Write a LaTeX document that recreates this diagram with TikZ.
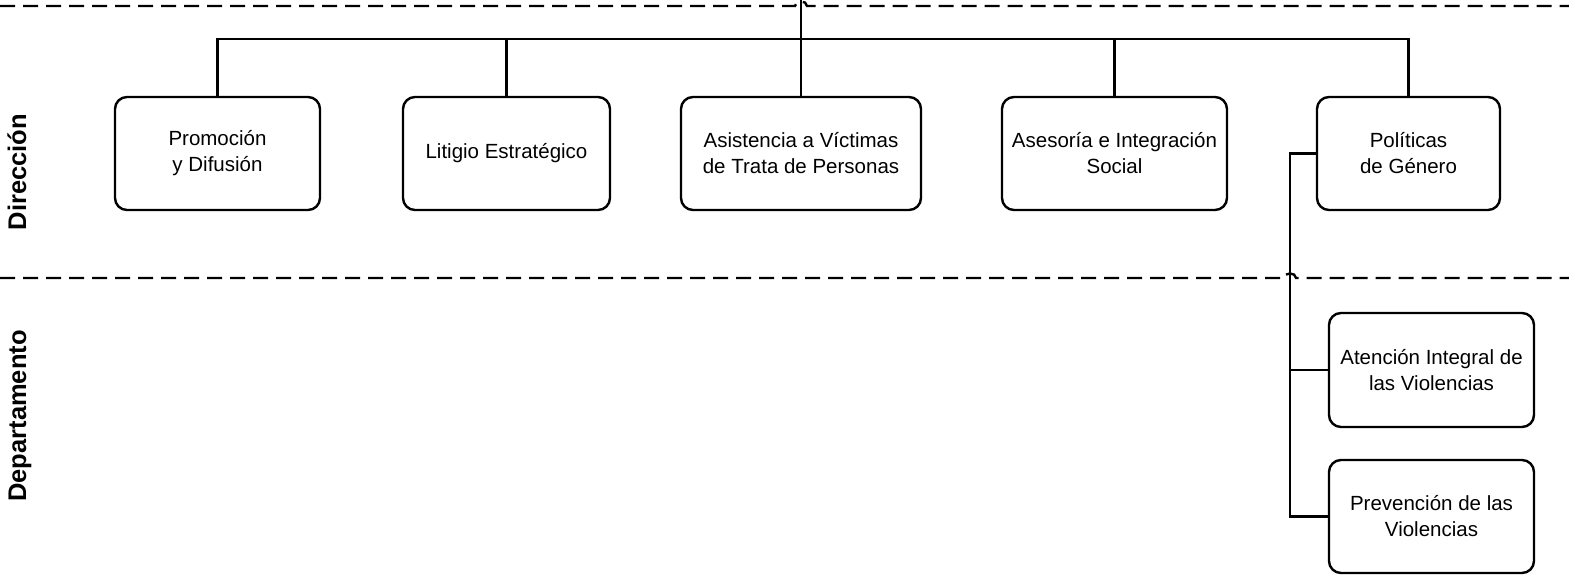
\documentclass[tikz,border=0pt]{standalone}
\usepackage{fontspec}
\setmainfont{Liberation Sans}
\begin{document}
\begin{tikzpicture}[x=1pt,y=-1pt,
  box/.style={draw=black, line width=2.4pt, rounded corners=12pt, align=center,
    inner sep=0pt, font=\fontsize{20.5}{26}\selectfont},
  conn/.style={draw=black, line width=2.4pt},
  dashline/.style={draw=black, line width=2.4pt, dash pattern=on 15pt off 8pt},
  lane/.style={rotate=90, anchor=base, font=\fontsize{25.5}{28}\selectfont\bfseries}]
\useasboundingbox (0,0) rectangle (1569,575);

% lanes
\draw[dashline] (0,6) -- (795,6) .. controls (795,0) and (807,0) .. (807,6) -- (1569,6);
\draw[dashline] (0,278) -- (1284,278) .. controls (1284,272) and (1296,272) .. (1296,278) -- (1569,278);
\node[lane] (dir) at (26,172) {Dirección};
\node[lane] (dep) at (26,416) {Departamento};

% boxes
\node[box, minimum width=205pt, minimum height=113pt] (prom) at (217.5,153.5) {Promoción\\y Difusión};
\node[box, minimum width=207pt, minimum height=113pt] (lit) at (506.5,153.5) {Litigio Estratégico};
\node[box, minimum width=240pt, minimum height=113pt] (asis) at (801,153.5) {Asistencia a Víctimas\\de Trata de Personas};
\node[box, minimum width=225pt, minimum height=113pt] (ases) at (1114.5,153.5) {Asesoría e Integración\\Social};
\node[box, minimum width=183pt, minimum height=113pt] (pol) at (1408.5,153.5) {Políticas\\de Género};
\node[box, minimum width=205pt, minimum height=114pt] (aten) at (1431.5,370) {Atención Integral de\\las Violencias};
\node[box, minimum width=205pt, minimum height=113pt] (prev) at (1431.5,516.5) {Prevención de las\\Violencias};

% connectors
\coordinate (top) at (801,0);
\coordinate (bus) at (801,39);
\coordinate (side) at (1290,153.5);
\draw[conn] (top) -- (asis.north);
\draw[conn] (prom.north) -- (prom.north |- bus) -- (pol.north |- bus) -- (pol.north);
\draw[conn] (lit.north) -- (lit.north |- bus);
\draw[conn] (ases.north) -- (ases.north |- bus);
\draw[conn] (pol.west) -- (side) -- (side |- prev.west) -- (prev.west);
\draw[conn] (side |- aten.west) -- (aten.west);
\end{tikzpicture}
\end{document}
